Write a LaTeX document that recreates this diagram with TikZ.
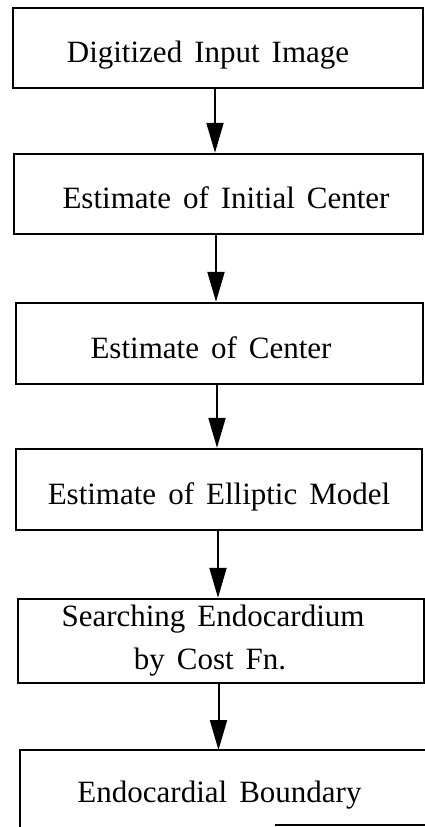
\documentclass[tikz,border=0pt]{standalone}
\usepackage{fontspec}
\setmainfont{Liberation Serif}
\usetikzlibrary{arrows.meta,calc}
\newcommand\myboxfont{\fontsize{31}{43}\selectfont\setlength{\spaceskip}{12pt}}
\tikzset{
  boxfont/.style={font=\myboxfont},
  stepbox/.style={draw, line width=2.4pt, rectangle, inner sep=0pt, boxfont,
                  text height=36pt, text depth=6.5pt},
  flow/.style={line width=2pt, -{Triangle[length=30pt,width=17pt]}}
}
\begin{document}
\begin{tikzpicture}[x=1pt,y=-1pt]
\useasboundingbox (0,0) rectangle (425,827);
\node[stepbox, minimum width=410pt, minimum height=80pt] (b1) at (218,48)
  {\hspace*{-20pt}Digitized Input Image};
\node[stepbox, minimum width=409pt, minimum height=80pt] (b2) at (218.5,194)
  {\hspace*{15pt}Estimate of Initial Center};
\node[stepbox, minimum width=407pt, minimum height=81pt] (b3) at (219.5,343.5)
  {\hspace*{-17pt}Estimate of Center};
\node[stepbox, minimum width=406pt, minimum height=81pt] (b4) at (219,489.5)
  {Estimate of Elliptic Model};
\node[draw, line width=2.4pt, rectangle, inner sep=0pt, boxfont, align=center,
      minimum width=406pt, minimum height=84pt] (b5) at (221,641)
  {\hspace*{-16pt}Searching Endocardium\\\hspace*{-22pt}by Cost Fn.};
\node[rectangle, inner sep=0pt, outer sep=0pt, boxfont, text height=36pt, text depth=6.5pt,
      minimum width=405pt, minimum height=75pt] (b6) at (222.5,787.5)
  {\hspace*{-6pt}Endocardial Boundary};
\draw[line width=2.4pt] (b6.south west) ++(0,2) -- (b6.north west) -- (b6.north east);
\draw[line width=1.6pt] ($(b6.south east)+(-150,0)$) -- (b6.south east);
\draw[flow] (b1.south) ++(-3,0) coordinate (a1) -- (a1 |- b2.north);
\draw[flow] (b2.south) ++(-2.5,0) coordinate (a2) -- (a2 |- b3.north);
\draw[flow] (b3.south) ++(-2.5,0) coordinate (a3) -- (a3 |- b4.north);
\draw[flow] (b4.south) ++(-1,0) coordinate (a4) -- (a4 |- b5.north);
\draw[flow] (b5.south) ++(-2.5,0) coordinate (a5) -- (a5 |- b6.north);
\end{tikzpicture}
\end{document}
